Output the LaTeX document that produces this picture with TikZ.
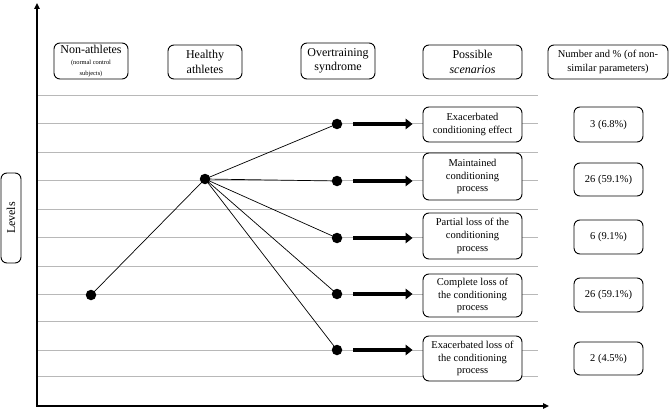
\documentclass[tikz,border=0pt]{standalone}
\usepackage{fontspec}
\setmainfont{Liberation Serif}
\usetikzlibrary{arrows.meta,calc}
\begin{document}
\begin{tikzpicture}[x=1pt,y=-1pt,
  box/.style={draw=black,line width=0.9pt,rounded corners=6pt,fill=white,align=center,inner sep=1pt},
  head/.style={box,font=\fontsize{12}{14.5}\selectfont},
  scen/.style={box,font=\fontsize{10.5}{12.7}\selectfont,minimum width=99pt},
  numbox/.style={box,font=\fontsize{10.5}{12.7}\selectfont,minimum width=69pt},
  dot/.style={circle,fill=black,minimum size=10.5pt,inner sep=0pt},
  grid/.style={draw=black!28,line width=1pt},
  link/.style={draw=black,line width=0.7pt},
  bigarrow/.style={draw=black,line width=4.8pt,-{Triangle[length=7pt,width=10.5pt]}},
  axis/.style={draw=black,line width=1.8pt,-{Triangle[length=6pt,width=5.5pt]}}
]
\useasboundingbox (0,0) rectangle (669,409);
% grid lines
\foreach \yy in {96,124,152,180.5,209,237.5,266,294,321,350,376.5}
  \draw[grid] (37,\yy) -- (538,\yy);
% axes
\coordinate (orig) at (37,406);
\coordinate (ytop) at (37,3);
\coordinate (xend) at (549,406);
\draw[axis] (orig) -- (ytop);
\draw[axis] ([xshift=-0.9pt]orig) -- (xend);
% header boxes
\node[head,minimum width=74pt,minimum height=36pt] (hna) at (91,61)
  {Non-athletes\\[-3pt]{\fontsize{6.4}{7.5}\selectfont (normal control}\\[-4pt]{\fontsize{6.4}{7.5}\selectfont subjects)}};
\node[head,minimum width=74pt,minimum height=34pt] (hha) at (205,62) {Healthy\\athletes};
\node[head,minimum width=74pt,minimum height=36pt] (hot) at (338,61) {Overtraining\\syndrome};
\node[head,minimum width=99pt,minimum height=34pt] (hps) at (472.5,62) {Possible\\\textit{scenarios}};
\node[box,font=\fontsize{10.5}{13.5}\selectfont,minimum width=120pt,minimum height=34pt] (hnum) at (608,62) {Number and \% (of non-\\similar parameters)};
\node[box,font=\fontsize{12}{14}\selectfont,rotate=90,minimum width=90pt,minimum height=20pt] (lev) at (11,218) {Levels};
% scenario boxes
\node[scen,minimum height=35pt] (s1) at (472.5,124.5) {Exacerbated\\conditioning effect};
\node[scen,minimum height=47pt] (s2) at (472.5,176.5) {Maintained\\conditioning\\process};
\node[scen,minimum height=46pt] (s3) at (472.5,236) {Partial loss of the\\conditioning\\process};
\node[scen,minimum height=43pt] (s4) at (472.5,295.5) {Complete loss of\\the conditioning\\process};
\node[scen,minimum height=45pt] (s5) at (472.5,358.5) {Exacerbated loss of\\the conditioning\\process};
% number boxes
\node[numbox,minimum height=35pt] (n1) at (608.5,124.5) {3 (6.8\%)};
\node[numbox,minimum height=33pt] (n2) at (608.5,179.5) {26 (59.1\%)};
\node[numbox,minimum height=34pt] (n3) at (608.5,237) {6 (9.1\%)};
\node[numbox,minimum height=34pt] (n4) at (608.5,295) {26 (59.1\%)};
\node[numbox,minimum height=33pt] (n5) at (608.5,358.5) {2 (4.5\%)};
% dots
\node[dot] (d0) at (91,295) {};
\node[dot] (d1) at (205,179) {};
\node[dot] (o1) at (337,124) {};
\node[dot] (o2) at (337,181) {};
\node[dot] (o3) at (337,238) {};
\node[dot] (o4) at (337,294) {};
\node[dot] (o5) at (337,350) {};
% links
\draw[link] (d0.center) -- (d1.center);
\foreach \o in {o1,o2,o3,o4,o5}
  \draw[link] (d1.center) -- (\o.center);
% thick arrows
\foreach \o/\s in {o1/s1,o2/s2,o3/s3,o4/s4,o5/s5}
  \draw[bigarrow,shorten <=16pt,shorten >=10pt] (\o.center) -- (\s.west |- \o.center);
\end{tikzpicture}
\end{document}
